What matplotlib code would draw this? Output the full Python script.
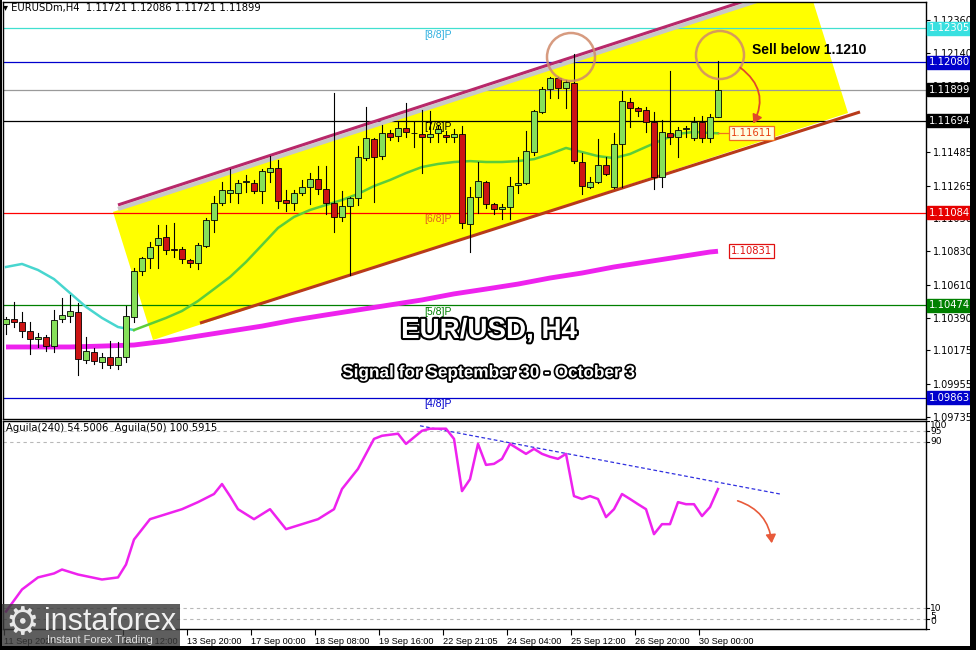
import matplotlib
matplotlib.use('Agg')
import matplotlib.pyplot as plt
import matplotlib.transforms as mtransforms
import matplotlib.patheffects as pe
from matplotlib.patches import Polygon, Circle, FancyArrowPatch, Rectangle

plt.rcParams['font.family'] = ['Liberation Sans', 'DejaVu Sans']

# ---------------- data ----------------
opens = [1.10350, 1.10383, 1.10363, 1.10303, 1.10250, 1.10264, 1.10204, 1.10383, 1.10403, 1.10430,
         1.10112, 1.10165, 1.10099, 1.10132, 1.10079, 1.10132, 1.10397, 1.10700, 1.10786, 1.10872,
         1.10925, 1.10845, 1.10845, 1.10773, 1.10753, 1.10865, 1.11038, 1.11150, 1.11216, 1.11216,
         1.11289, 1.11282, 1.11229, 1.11355, 1.11381, 1.11170, 1.11150, 1.11216, 1.11256, 1.11308,
         1.11242, 1.11150, 1.11058, 1.11130, 1.11183, 1.11447, 1.11573, 1.11460, 1.11613, 1.11593,
         1.11646, 1.11613, 1.11607, 1.11587, 1.11613, 1.11600, 1.11587, 1.11607, 1.11012, 1.11190,
         1.11289, 1.11144, 1.11110, 1.11124, 1.11269, 1.11282, 1.11487, 1.11752, 1.11903, 1.11976,
         1.11910, 1.11943, 1.11421, 1.11256, 1.11289, 1.11401, 1.11256, 1.11541, 1.11818, 1.11778,
         1.11765, 1.11686, 1.11322, 1.11613, 1.11587, 1.11639, 1.11580, 1.11686, 1.11580, 1.11721]
highs = [1.10397, 1.10496, 1.10430, 1.10363, 1.10290, 1.10277, 1.10443, 1.10522, 1.10542, 1.10489,
         1.10264, 1.10191, 1.10158, 1.10237, 1.10231, 1.10469, 1.10720, 1.10793, 1.10892, 1.11005,
         1.11005, 1.11018, 1.10859, 1.10779, 1.10885, 1.11051, 1.11196, 1.11289, 1.11374, 1.11302,
         1.11335, 1.11302, 1.11374, 1.11460, 1.11434, 1.11236, 1.11236, 1.11302, 1.11348, 1.11394,
         1.11394, 1.11877, 1.11229, 1.11190, 1.11527, 1.11785, 1.11580, 1.11666, 1.11633, 1.11686,
         1.11811, 1.11686, 1.11765, 1.11758, 1.11666, 1.11626, 1.11639, 1.11659, 1.11256, 1.11421,
         1.11295, 1.11150, 1.11144, 1.11322, 1.11454, 1.11626, 1.11765, 1.11917, 1.11983, 1.11983,
         1.11963, 1.12136, 1.11480, 1.11322, 1.11573, 1.11454, 1.11613, 1.11890, 1.11844, 1.11785,
         1.11785, 1.11752, 1.11699, 1.12022, 1.11653, 1.11659, 1.11719, 1.11725, 1.11739, 1.12086]
lows = [1.10284, 1.10330, 1.10264, 1.10152, 1.10198, 1.10171, 1.10165, 1.10363, 1.10363, 1.10013,
        1.10092, 1.10086, 1.10059, 1.10059, 1.10052, 1.10099, 1.10363, 1.10674, 1.10720, 1.10720,
        1.10813, 1.10793, 1.10753, 1.10727, 1.10713, 1.10859, 1.10958, 1.11137, 1.11157, 1.11150,
        1.11223, 1.11216, 1.11150, 1.11289, 1.11117, 1.11097, 1.11104, 1.11203, 1.11144, 1.11210,
        1.11078, 1.10958, 1.11031, 1.10674, 1.11137, 1.11434, 1.11157, 1.11440, 1.11567, 1.11560,
        1.11587, 1.11521, 1.11348, 1.11554, 1.11554, 1.11554, 1.11554, 1.10985, 1.10826, 1.11084,
        1.11117, 1.11078, 1.11044, 1.11044, 1.11216, 1.11276, 1.11467, 1.11745, 1.11844, 1.11844,
        1.11778, 1.11414, 1.11210, 1.11249, 1.11282, 1.11335, 1.11249, 1.11256, 1.11653, 1.11725,
        1.11620, 1.11242, 1.11256, 1.11541, 1.11454, 1.11587, 1.11567, 1.11554, 1.11554, 1.11721]
closes = [1.10383, 1.10363, 1.10303, 1.10250, 1.10264, 1.10204, 1.10376, 1.10410, 1.10436, 1.10118,
          1.10171, 1.10105, 1.10132, 1.10079, 1.10132, 1.10403, 1.10700, 1.10786, 1.10859, 1.10918,
          1.10839, 1.10842, 1.10779, 1.10753, 1.10872, 1.11038, 1.11150, 1.11236, 1.11236, 1.11282,
          1.11292, 1.11229, 1.11361, 1.11381, 1.11163, 1.11150, 1.11216, 1.11256, 1.11308, 1.11242,
          1.11150, 1.11058, 1.11130, 1.11183, 1.11454, 1.11580, 1.11454, 1.11613, 1.11587, 1.11646,
          1.11620, 1.11610, 1.11587, 1.11607, 1.11639, 1.11587, 1.11607, 1.11018, 1.11190, 1.11295,
          1.11144, 1.11110, 1.11124, 1.11262, 1.11282, 1.11493, 1.11758, 1.11903, 1.11976, 1.11910,
          1.11950, 1.11427, 1.11262, 1.11289, 1.11401, 1.11342, 1.11541, 1.11824, 1.11778, 1.11758,
          1.11686, 1.11322, 1.11620, 1.11587, 1.11633, 1.11643, 1.11686, 1.11580, 1.11721, 1.11899]

# fast moving average (index, value); falling part cyan, rising part green
ma_fast_idx = [0, 2, 4, 6, 8, 10, 12, 14, 16, 18, 20, 22, 24, 26, 28, 30, 32, 34, 36, 38, 40, 42, 44,
               46, 48, 50, 52, 54, 56, 58, 60, 62, 64, 66, 68, 70, 72, 74, 76, 78, 80, 82, 84, 86, 88, 89]
ma_fast_val = [1.10727, 1.10747, 1.10707, 1.10647, 1.10555, 1.10463, 1.10390, 1.10330, 1.10310, 1.10350,
               1.10390, 1.10436, 1.10502, 1.10581, 1.10661, 1.10760, 1.10872, 1.10985, 1.11058, 1.11104,
               1.11137, 1.11170, 1.11210, 1.11262, 1.11302, 1.11348, 1.11388, 1.11408, 1.11421, 1.11427,
               1.11421, 1.11421, 1.11427, 1.11440, 1.11474, 1.11514, 1.11487, 1.11460, 1.11447, 1.11474,
               1.11521, 1.11567, 1.11607, 1.11620, 1.11613, 1.11611]
ma_fast_turn = 8   # position in the list where the colour changes

# slow moving average
ma_slow_idx = [0, 4, 8, 12, 16, 20, 24, 28, 32, 36, 40, 44, 48, 52, 56, 60, 64, 68, 72, 76, 80, 84, 88, 89]
ma_slow_val = [1.10198, 1.10198, 1.10198, 1.10204, 1.10211, 1.10237, 1.10270, 1.10303, 1.10336, 1.10376,
               1.10410, 1.10443, 1.10476, 1.10509, 1.10549, 1.10581, 1.10614, 1.10654, 1.10687, 1.10727,
               1.10760, 1.10793, 1.10826, 1.10831]

# horizontal levels
level_prices = [1.12305, 1.12080, 1.11899, 1.11694, 1.11084, 1.10474, 1.09863]
level_line_colors = ['#40e0d0', '#0000cd', '#9a9a9a', '#000000', '#ff0000', '#008000', '#0000cd']
level_box_colors = ['#38e0e0', '#0000cc', '#000000', '#000000', '#e60000', '#008000', '#0000cc']
murrey_labels = {1.12305: ('[8/8]P', '#30b0e0'), 1.11694: ('[7/8]P', '#000000'),
                 1.11084: ('[6/8]P', '#e06020'), 1.10474: ('[5/8]P', '#008000'),
                 1.09863: ('[4/8]P', '#0000cd')}

price_ticks = [1.12360, 1.12140, 1.11925, 1.11485, 1.11265, 1.11050, 1.10830, 1.10610,
               1.10390, 1.10175, 1.09955, 1.09735]

# channel anchors (bar index, price)
upper_line = [(14.0, 1.11137), (94.25, 1.12519)]
lower_line = [(24.25, 1.10356), (106.75, 1.11752)]
channel_box = [(13.375, 1.11091), (18.375, 1.10244), (105.25, 1.11745), (100.25, 1.12591)]

# indicator Aguila(240)
ind_idx = [0, 2, 4, 6, 7, 9, 12, 14, 15, 16, 18, 20, 22, 24, 26, 27, 28, 29, 31, 33, 35, 37, 39, 41,
           42, 44, 46, 47, 49, 50, 52, 53, 55, 56, 57, 58, 59, 60, 61, 62, 63, 64, 65, 66, 67, 68, 69,
           70, 71, 72, 73, 74, 75, 76, 77, 78, 79, 80, 81, 82, 83, 84, 85, 86, 87, 88, 89]
ind_val = [8.4, 19, 24.8, 26.7, 28.6, 26.2, 23.8, 24.8, 31, 43, 52.8, 55.2, 57.6, 61, 64.9, 69.7, 63.9,
           57.6, 52.8, 57.6, 48, 50.4, 52.8, 57.6, 67.3, 77, 91.4, 92.9, 93.9, 89, 95.3, 96.3, 96.3,
           91.4, 66.3, 72, 89, 78.9, 79.4, 81.8, 89, 86.6, 84.2, 86.6, 84.2, 82.8, 81.8, 84.2, 63.9,
           62.5, 63.9, 62.5, 53.8, 57.6, 64.9, 62.5, 60, 57.6, 45.6, 50.4, 50.4, 61, 60, 60, 54.3,
           58.6, 67.3]
ind_trend = [(51.75, 97.7), (96.75, 64.9)]
ind_levels = [95, 90, 10, 5]

date_idx = [-0.3, 14.6, 22.6, 30.6, 38.6, 46.6, 54.6, 62.6, 70.6, 78.6, 86.6]
date_labels = ['11 Sep 2024', '12 Sep 12:00', '13 Sep 20:00', '17 Sep 00:00', '18 Sep 08:00',
               '19 Sep 16:00', '22 Sep 21:05', '24 Sep 04:00', '25 Sep 12:00', '26 Sep 20:00',
               '30 Sep 00:00']

# ---------------- figure ----------------
W, H = 976, 650
fig = plt.figure(figsize=(W / 100, H / 100), dpi=100)
fig.patch.set_facecolor('white')

def fr(x0, y0, x1, y1):
    return [x0 / W, 1 - y1 / H, (x1 - x0) / W, (y1 - y0) / H]

ax = fig.add_axes(fr(3, 2, 926, 419))
ax2 = fig.add_axes(fr(3, 421, 926, 629))

ppx = 0.02625 / 397.0
ytop = 1.12360 + 18 * ppx
ybot = 1.12360 - 399 * ppx
xl = (-0.375, 115.0)
ax.set_xlim(*xl)
ax.set_ylim(ybot, ytop)
ax2.set_xlim(*xl)
ax2.set_ylim(0, 100)

for a in (ax, ax2):
    for s in a.spines.values():
        s.set_color('black')
        s.set_linewidth(1.0)
    a.set_facecolor('white')

# channel
ax.add_patch(Polygon(channel_box, closed=True, facecolor='#ffff00', edgecolor='none', zorder=1))
(ux0, uy0), (ux1, uy1) = upper_line
ax.plot([ux0, ux1], [uy0 - 4 * ppx, uy1 - 4 * ppx], color='#c8c8c8', lw=3, zorder=2,
        solid_capstyle='butt')
ax.plot([ux0, ux1], [uy0, uy1], color='#b8286a', lw=2.2, zorder=2.1, solid_capstyle='butt')
(lx0, ly0), (lx1, ly1) = lower_line
ax.plot([lx0, lx1], [ly0, ly1], color='#b83a1a', lw=2.2, zorder=2.1, solid_capstyle='butt')

# levels
blend = mtransforms.blended_transform_factory(ax.transAxes, ax.transData)
for p, lc, bc in zip(level_prices, level_line_colors, level_box_colors):
    ax.axhline(p, color=lc, lw=0.9, zorder=1.5)
    ax.text(1 + 3 / 923, p, f'{p:.5f}', transform=blend, fontsize=7.2, color='white',
            va='center', ha='left', family='DejaVu Sans', zorder=10, clip_on=False,
            bbox=dict(boxstyle='square,pad=0.15', facecolor=bc, edgecolor=bc))
    if p in murrey_labels:
        t, c = murrey_labels[p]
        ax.text(52.3, p - 1.5 * ppx, t, fontsize=7.5, color=c, va='top', ha='left', zorder=3)

# moving averages
ax.plot(ma_fast_idx[:ma_fast_turn + 1], ma_fast_val[:ma_fast_turn + 1], color='#48d6cf', lw=1.8, zorder=4)
ax.plot(ma_fast_idx[ma_fast_turn:], ma_fast_val[ma_fast_turn:], color='#5ccd3a', lw=1.8, zorder=4)
ax.plot(ma_slow_idx, ma_slow_val, color='#ee22ee', lw=3.5, zorder=4, solid_capstyle='butt')

# candles
up_c, dn_c = '#86e05a', '#cc1414'
for i, (o, h, l, c) in enumerate(zip(opens, highs, lows, closes)):
    ax.plot([i, i], [l, h], color='black', lw=0.8, zorder=5)
    lo, hi = min(o, c), max(o, c)
    hgt = max(hi - lo, 0.6 * ppx)
    col = up_c if c >= o else dn_c
    ax.add_patch(Rectangle((i - 0.33, lo), 0.66, hgt, facecolor=col, edgecolor='black',
                           lw=0.6, zorder=6))

# MA end labels
ax.plot([89, 90.2], [ma_fast_val[-1]] * 2, color='#f07020', lw=0.9, zorder=4)
ax.text(90.6, ma_fast_val[-1], f'{ma_fast_val[-1]:.5f}', fontsize=7.2, color='#e84010',
        family='DejaVu Sans', va='center', ha='left', zorder=7,
        bbox=dict(boxstyle='square,pad=0.2', facecolor='#fffde0', edgecolor='#f07020', lw=0.9))
ax.text(90.6, ma_slow_val[-1], f'{ma_slow_val[-1]:.5f}', fontsize=7.2, color='#e01010',
        family='DejaVu Sans', va='center', ha='left', zorder=7,
        bbox=dict(boxstyle='square,pad=0.2', facecolor='white', edgecolor='#e01010', lw=0.9))

# price axis
ax.yaxis.tick_right()
ax.set_yticks(price_ticks)
ax.set_yticklabels([f'{t:.5f}' for t in price_ticks], family='DejaVu Sans')
ax.tick_params(axis='y', labelsize=7, length=3, width=0.8, pad=2, colors='black')
ax.set_xticks([])

# indicator panel
for lv in ind_levels:
    ax2.axhline(lv, color='#b8b8b8', lw=0.8, ls=(0, (3, 3)), zorder=1)
ax2.plot(ind_idx, ind_val, color='#ee22ee', lw=1.8, zorder=4)
(tx0, tv0), (tx1, tv1) = ind_trend
ax2.plot([tx0, tx1], [tv0, tv1], color='#3030e0', lw=0.9, ls=(0, (3, 2)), zorder=3)
ax2.set_yticks([])
ax2.set_xticks(date_idx)
ax2.set_xticklabels(date_labels, family='Liberation Sans')
ax2.tick_params(axis='x', labelsize=6.6, length=4, width=0.8, pad=2)
for lbl in ax2.get_xticklabels():
    lbl.set_ha('left')
ax2.text(0.0, 96.5, 'Aguila(240) 54.5006  Aguila(50) 100.5915', fontsize=7.2, va='center',
         ha='left', family='DejaVu Sans', zorder=6)
rblend = mtransforms.blended_transform_factory(ax2.transAxes, ax2.transData)
for v, t in [(97.7, '100'), (94.8, '95'), (90, '90'), (9.8, '10'), (6.0, '5'), (3.4, '0')]:
    ax2.text(1 + 4 / 923, v, t, transform=rblend, fontsize=6.6, va='center', ha='left',
             family='DejaVu Sans', clip_on=False)
for v in [100, 95, 90, 10, 5, 0]:
    ax2.plot([1, 1 + 3 / 923], [v, v], transform=rblend, color='black', lw=0.8, clip_on=False)

# ---------------- overlay annotations (pixel space) ----------------
ov = fig.add_axes([0, 0, 1, 1], facecolor='none')
ov.set_xlim(0, W)
ov.set_ylim(H, 0)
ov.axis('off')
ov.set_zorder(20)

for cx, cy in [(571, 57), (720, 55)]:
    ov.add_patch(Circle((cx, cy), 24, facecolor='none', edgecolor='#d08a6a', lw=1.8, alpha=0.85))

ov.add_patch(FancyArrowPatch((738, 66), (752, 126), connectionstyle='arc3,rad=-0.45',
                             arrowstyle='-|>,head_length=5,head_width=3', color='#e04a2a', lw=1.3))
ov.add_patch(FancyArrowPatch((735, 500), (772, 546), connectionstyle='arc3,rad=-0.35',
                             arrowstyle='-|>,head_length=5,head_width=3', color='#e85a3a', lw=1.2))

ov.text(752, 50, 'Sell below 1.1210', fontsize=10, fontweight='bold', va='center', ha='left')

stroke = [pe.withStroke(linewidth=3, foreground='black')]
ov.text(489, 331, 'EUR/USD, H4', fontsize=20, fontweight='bold', color='white', ha='center',
        va='center', path_effects=stroke)
ov.text(489, 373, 'Signal for September 30 - October 3', fontsize=12.4, fontweight='bold',
        color='white', ha='center', va='center', path_effects=[pe.withStroke(linewidth=2.5, foreground='black')])

ov.text(3, 8, '\u25BE EURUSDm,H4  1.11721 1.12086 1.11721 1.11899', fontsize=7.2, va='center',
        ha='left', family='DejaVu Sans')

# logo
ov.add_patch(Rectangle((0, 604), 180, 46, facecolor='#3a3a3a', edgecolor='none', alpha=0.82))
ov.text(22, 624, '\u2699', fontsize=27, color='#e8e8e8', ha='center', va='center', family='DejaVu Sans')
ov.text(44, 622, 'instaforex', fontsize=22, color='#f0f0f0', ha='left', va='center')
ov.text(47, 640, 'Instant Forex Trading', fontsize=8, color='#e0e0e0', ha='left', va='center')

# outer frame
ov.add_patch(Rectangle((0, 0), 2, H, facecolor='black', edgecolor='none'))
ov.add_patch(Rectangle((970, 0), 6, H, facecolor='black', edgecolor='none'))
ov.add_patch(Rectangle((0, 646), W, 4, facecolor='black', edgecolor='none'))

fig.savefig('out.png', dpi=100, facecolor='white')
